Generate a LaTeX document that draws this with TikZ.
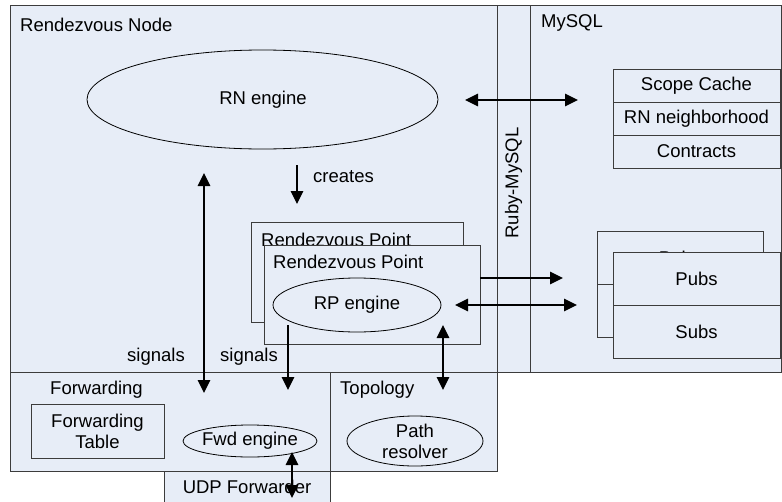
\documentclass[tikz,border=0pt]{standalone}
\usepackage{fontspec}
\setmainfont{Liberation Sans}
\usetikzlibrary{shapes.geometric,arrows.meta}
\definecolor{bfill}{RGB}{231,237,247}
\definecolor{bline}{RGB}{60,60,60}
\tikzset{
  txt/.style={font=\fontsize{18.5}{21}\selectfont, inner sep=0pt},
  box/.style={draw=bline, fill=bfill, line width=0.9pt, inner sep=0pt},
  oval/.style={ellipse, draw=black, fill=bfill, line width=0.8pt, inner sep=0pt},
  lbl/.style={txt, anchor=west},
  link/.style={line width=1.5pt, -{Triangle[length=13pt,width=12.5pt]}},
  dlink/.style={line width=1.5pt, {Triangle[length=13pt,width=12.5pt]}-{Triangle[length=13pt,width=12.5pt]}},
  thinlink/.style={line width=1.1pt, -{Triangle[length=13pt,width=12.5pt]}},
}
\begin{document}
\begin{tikzpicture}[x=1pt,y=-1pt]
\useasboundingbox (0,0) rectangle (782,501);

% outer containers
\node[box, minimum width=487, minimum height=367] (rnbox) at (253.5,188.5) {};
\node[box, minimum width=33, minimum height=367] (ruby) at (513.5,188.5) {};
\node[box, minimum width=251.5, minimum height=367] (mysql) at (655.75,188.5) {};
\node[box, minimum width=166, minimum height=39] (udp) at (247,490.5) {};
\node[box, minimum width=320, minimum height=99] (fwdbox) at (170,421.5) {};
\node[box, minimum width=167, minimum height=99] (topo) at (413.5,421.5) {};

\node[lbl] (rnlbl) at (20,25) {Rendezvous Node};
\node[lbl] (mylbl) at (541,23) {MySQL};
\node[txt, rotate=90] (rubylbl) at (513.5,183) {Ruby-MySQL};
\node[lbl] (fwdlbl) at (50,390) {Forwarding};
\node[lbl] (topolbl) at (340,390) {Topology};
\node[txt] (udplbl) at (247,487) {UDP Forwarder};

% RN engine
\node[oval, minimum width=351, minimum height=99] (rn) at (262.5,99.5) {};
\node[txt] (rntxt) at (263,99.5) {RN engine};

% MySQL tables
\node[box, minimum width=167, minimum height=33] (scope) at (696.5,85.5) {};
\node[txt] at (scope) {Scope Cache};
\node[box, minimum width=167, minimum height=33] (nbr) at (696.5,118.5) {};
\node[txt] at (nbr) {RN neighborhood};
\node[box, minimum width=167, minimum height=33] (contr) at (696.5,151.5) {};
\node[txt] at (contr) {Contracts};

\node[box, minimum width=166, minimum height=53] (pubsb) at (680,258) {};
\node[txt] at (pubsb) {Pubs};
\node[box, minimum width=166, minimum height=53] (subsb) at (680,311) {};
\node[box, minimum width=167, minimum height=53] (pubs) at (696.5,278.5) {};
\node[txt] at (pubs) {Pubs};
\node[box, minimum width=167, minimum height=53] (subs) at (696.5,331.5) {};
\node[txt] at (subs) {Subs};

% Rendezvous points
\node[box, minimum width=212, minimum height=100] (rpb) at (357,272) {};
\node[lbl] at (261,240) {Rendezvous Point};
\node[box, minimum width=216, minimum height=99] (rpf) at (372,294.5) {};
\node[lbl] (rplbl) at (273,262) {Rendezvous Point};
\node[oval, minimum width=168, minimum height=54] (rp) at (357,305) {};
\node[txt] at (rp) {RP engine};

% forwarding contents
\node[box, minimum width=133, minimum height=54] (ftab) at (97.5,431) {};
\node[txt, align=center] at (ftab) {Forwarding\\Table};
\node[oval, minimum width=134, minimum height=32] (fwd) at (250,441) {};
\node[txt] at (fwd) {Fwd engine};
\node[oval, minimum width=136, minimum height=50] (path) at (415,441) {};
\node[txt, align=center] at (path) {Path\\resolver};

% labels
\node[lbl] (creates) at (313,177) {creates};
\node[txt] (sig1) at (156,357) {signals};
\node[txt] (sig2) at (249,357) {signals};

% connector end points
\coordinate (a1) at (465,100);  \coordinate (a2) at (578,100);
\coordinate (c1) at (297,165);  \coordinate (c2) at (297,204);
\coordinate (s1) at (204,173);  \coordinate (s2) at (204,393);
\coordinate (r1) at (288,325);  \coordinate (r2) at (288,390);
\coordinate (t1) at (443,325);  \coordinate (t2) at (443,390);
\coordinate (p1) at (480,278);  \coordinate (p2) at (563,278);
\coordinate (q1) at (455,305);  \coordinate (q2) at (577,305);
\coordinate (u1) at (292,452);  \coordinate (u2) at (292,498);

\draw[dlink] (a1) -- (a2);
\draw[thinlink] (c1) -- (c2);
\draw[dlink] (s1) -- (s2);
\draw[link] (r1) -- (r2);
\draw[dlink] (t1) -- (t2);
\draw[link] (p1) -- (p2);
\draw[dlink] (q1) -- (q2);
\draw[dlink] (u1) -- (u2);
\end{tikzpicture}
\end{document}
